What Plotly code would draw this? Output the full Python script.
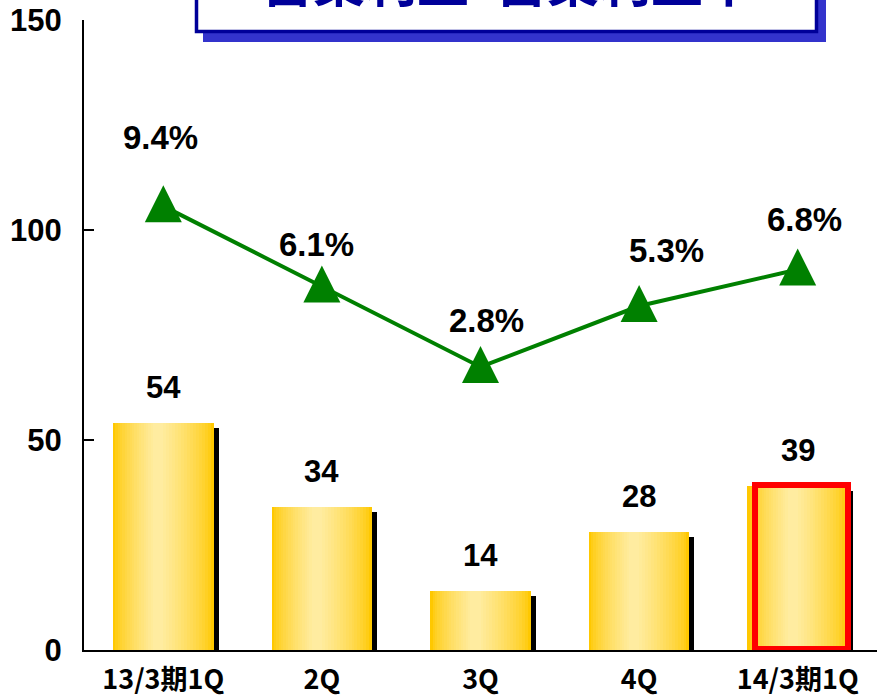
import numpy as np
import plotly.graph_objects as go

# ---------------- data ----------------
categories = ["13/3期1Q", "2Q", "3Q", "4Q", "14/3期1Q"]
operating_profit = [54, 34, 14, 28, 39]
operating_margin = [9.4, 6.1, 2.8, 5.3, 6.8]
margin_labels = ["9.4%", "6.1%", "2.8%", "5.3%", "6.8%"]
profit_labels = ["54", "34", "14", "28", "39"]
y_ticks = [0, 50, 100, 150]
title_text = "営業利益･営業利益率"

# ---------------- layout geometry ----------------
W, H = 877, 696
ML, MR, MT, MB = 84, 0, 20, 46
plot_w = W - ML - MR
plot_h = H - MT - MB
cat_px = plot_w / len(categories)
y_px = plot_h / 150.0

Y2_RANGE = [-8.82, 17.04]
y2_per_px = (Y2_RANGE[1] - Y2_RANGE[0]) / plot_h
marker_lift = 21 * y2_per_px  # triangle apex sits 21px above the point

NUM_FONT = "Arial, 'Liberation Sans', sans-serif"
JP_FONT = "'Noto Sans CJK JP', sans-serif"

bar_w = 0.635
fig = go.Figure()

# shadow bars
sdx = 5 / cat_px
sdy = 5 / y_px
fig.add_bar(
    x=categories, y=operating_profit, base=[-sdy] * len(categories),
    width=bar_w, offset=-bar_w / 2 + sdx,
    marker=dict(color="black", line=dict(width=0)),
    hoverinfo="skip", showlegend=False,
)

# gradient bars (layered)
n_layers = 18
gold = np.array([255, 200, 0])
light = np.array([255, 236, 160])
for i in range(n_layers):
    t = i / (n_layers - 1)
    w = bar_w * (1 - 0.9 * t)
    shift = -0.05 * bar_w * t
    c = gold + (light - gold) * (t ** 0.7)
    fig.add_bar(
        x=categories, y=operating_profit,
        width=w, offset=-w / 2 + shift,
        marker=dict(color="rgb(%d,%d,%d)" % tuple(c.round()), line=dict(width=0)),
        hoverinfo="skip", showlegend=False,
    )

# red frame on latest quarter
frame_vals = [None] * (len(categories) - 1) + [operating_profit[-1]]
fw = 93 / cat_px
fig.add_bar(
    x=categories, y=frame_vals, base=[0.3] * len(categories),
    width=fw, offset=-fw / 2 + 0.022,
    marker=dict(color="rgba(0,0,0,0)", line=dict(color="#FF0000", width=6)),
    hoverinfo="skip", showlegend=False,
)

# margin line
fig.add_trace(go.Scatter(
    x=categories, y=operating_margin, yaxis="y2", mode="lines",
    line=dict(color="#008000", width=4), showlegend=False, hoverinfo="skip",
))
fig.add_trace(go.Scatter(
    x=categories, y=operating_margin, yaxis="y3", mode="markers",
    marker=dict(symbol="arrow-up", size=37, color="#008000",
                line=dict(width=0)),
    showlegend=False, hoverinfo="skip",
))

annotations = []
for c, v, lab in zip(categories, operating_profit, profit_labels):
    annotations.append(dict(
        x=c, y=v, xref="x", yref="y", text=lab, showarrow=False,
        yshift=36, yanchor="middle",
        font=dict(family=NUM_FONT, size=31, color="black", weight="bold"),
    ))
pct_yshift = [69, 42, 46, 56, 50]
pct_xshift = [-3, -5, 6, 27, 7]
for c, v, lab, dy, dx in zip(categories, operating_margin, margin_labels, pct_yshift, pct_xshift):
    annotations.append(dict(
        x=c, y=v, xref="x", yref="y2", text=lab, showarrow=False,
        yshift=dy, xshift=dx, yanchor="middle",
        font=dict(family=NUM_FONT, size=33, color="black", weight="bold"),
    ))


def px_x(p):
    return (p - ML) / plot_w


def px_y(p):
    return (H - MB - p) / plot_h


# title box (partly cut off at the top)
annotations.append(dict(
    x=px_x(508), y=px_y(-21), xref="paper", yref="paper",
    text=title_text, showarrow=False, xanchor="center", yanchor="middle",
    font=dict(family=JP_FONT, size=52, color="#000099", weight="bold"),
))

shapes = [
    dict(type="rect", xref="paper", yref="paper", layer="above",
         x0=px_x(203), x1=px_x(826), y0=px_y(42), y1=px_y(-80),
         fillcolor="#3333CC", line=dict(width=0)),
    dict(type="rect", xref="paper", yref="paper", layer="above",
         x0=px_x(196.5), x1=px_x(816.5), y0=px_y(31.5), y1=px_y(-80),
         fillcolor="white", line=dict(color="#000099", width=3.5)),
]

fig.update_layout(
    width=W, height=H,
    margin=dict(l=ML, r=MR, t=MT, b=MB, pad=0, autoexpand=False),
    paper_bgcolor="white", plot_bgcolor="white",
    barmode="overlay", bargap=0,
    showlegend=False,
    xaxis=dict(
        type="category", range=[-0.5, len(categories) - 0.5],
        showline=True, linecolor="black", linewidth=2,
        showgrid=False, ticks="", zeroline=False, automargin=False,
        tickfont=dict(family=JP_FONT, size=27, color="black", weight="bold"),
        ticklabelstandoff=5,
    ),
    yaxis=dict(
        range=[0, 150], tickvals=y_ticks, ticktext=[str(t) for t in y_ticks],
        showline=True, linecolor="black", linewidth=2,
        ticks="inside", ticklen=10, tickwidth=2, tickcolor="black",
        showgrid=False, zeroline=False, automargin=False,
        tickfont=dict(family=NUM_FONT, size=31, color="black", weight="bold"),
        ticklabelstandoff=14,
    ),
    yaxis2=dict(
        overlaying="y", side="right", range=Y2_RANGE,
        visible=False, showgrid=False, zeroline=False,
    ),
    yaxis3=dict(
        overlaying="y", side="right",
        range=[Y2_RANGE[0] - marker_lift, Y2_RANGE[1] - marker_lift],
        visible=False, showgrid=False, zeroline=False,
    ),
    annotations=annotations,
    shapes=shapes,
)

fig.write_html(
    "out.html",
    config={"displayModeBar": False},
    post_script="document.body.style.margin='0px';document.body.style.overflow='hidden';",
)
